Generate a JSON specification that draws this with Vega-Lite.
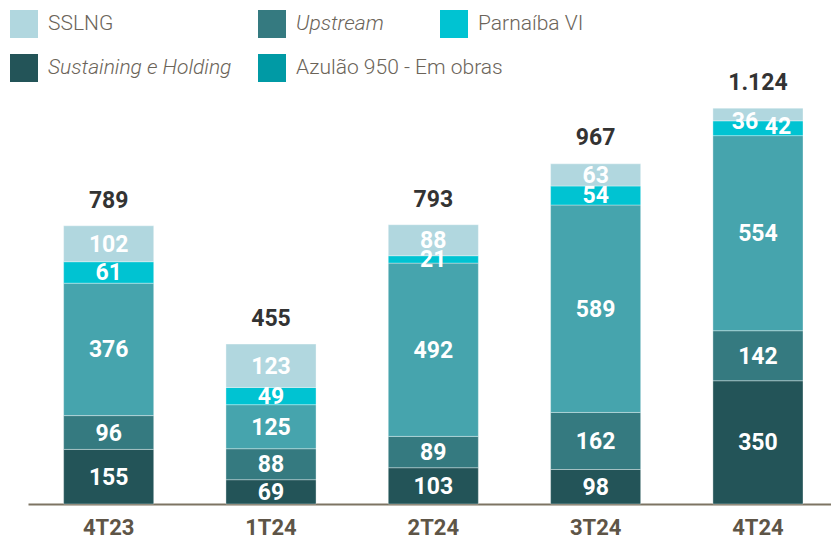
{
  "$schema": "https://vega.github.io/schema/vega-lite/v6.json",
  "width": 803,
  "height": 405,
  "autosize": {"type": "none"},
  "padding": {"left": 28, "top": 99, "right": 0, "bottom": 36},
  "background": "white",
  "config": {"view": {"stroke": null}, "font": "Roboto"},
  "datasets": {
    "main": [
      {"period": "4T23", "series": "Sustaining e Holding", "value": 155},
      {"period": "4T23", "series": "Upstream", "value": 96},
      {"period": "4T23", "series": "Azulão 950 - Em obras", "value": 376},
      {"period": "4T23", "series": "Parnaíba VI", "value": 61},
      {"period": "4T23", "series": "SSLNG", "value": 102},
      {"period": "1T24", "series": "Sustaining e Holding", "value": 69},
      {"period": "1T24", "series": "Upstream", "value": 88},
      {"period": "1T24", "series": "Azulão 950 - Em obras", "value": 125},
      {"period": "1T24", "series": "Parnaíba VI", "value": 49},
      {"period": "1T24", "series": "SSLNG", "value": 123},
      {"period": "2T24", "series": "Sustaining e Holding", "value": 103},
      {"period": "2T24", "series": "Upstream", "value": 89},
      {"period": "2T24", "series": "Azulão 950 - Em obras", "value": 492},
      {"period": "2T24", "series": "Parnaíba VI", "value": 21},
      {"period": "2T24", "series": "SSLNG", "value": 88},
      {"period": "3T24", "series": "Sustaining e Holding", "value": 98},
      {"period": "3T24", "series": "Upstream", "value": 162},
      {"period": "3T24", "series": "Azulão 950 - Em obras", "value": 589},
      {"period": "3T24", "series": "Parnaíba VI", "value": 54},
      {"period": "3T24", "series": "SSLNG", "value": 63},
      {"period": "4T24", "series": "Sustaining e Holding", "value": 350},
      {"period": "4T24", "series": "Upstream", "value": 142},
      {"period": "4T24", "series": "Azulão 950 - Em obras", "value": 554},
      {"period": "4T24", "series": "Parnaíba VI", "value": 42},
      {"period": "4T24", "series": "SSLNG", "value": 36}
    ],
    "totals": [
      {"period": "4T23", "total": 789, "label": "789"},
      {"period": "1T24", "total": 455, "label": "455"},
      {"period": "2T24", "total": 793, "label": "793"},
      {"period": "3T24", "total": 967, "label": "967"},
      {"period": "4T24", "total": 1124, "label": "1.124"}
    ]
  },
  "data": {"name": "main"},
  "resolve": {"scale": {"color": "independent"}, "legend": {"color": "independent"}},
  "layer": [
    {
      "transform": [
        {"calculate": "indexof(['Sustaining e Holding','Upstream','Azulão 950 - Em obras','Parnaíba VI','SSLNG'], datum.series)", "as": "ord"},
        {"stack": "value", "groupby": ["period"], "sort": [{"field": "ord"}], "as": ["v0", "v1"]}
      ],
      "mark": {"type": "bar", "stroke": "#ffffff", "strokeWidth": 1, "strokeOpacity": 0.35},
      "encoding": {
        "x": {
          "field": "period", "type": "nominal",
          "scale": {"domain": ["4T23", "1T24", "2T24", "3T24", "4T24"], "paddingInner": 0.445, "paddingOuter": 0.196, "align": 0.56},
          "axis": {"title": null, "labelAngle": 0, "ticks": false, "domainColor": "#7D7463", "domainWidth": 2, "labelFont": "Roboto", "labelFontWeight": "bold", "labelFontSize": 22, "labelColor": "#5E5547", "labelPadding": 13}
        },
        "y": {"field": "v0", "type": "quantitative", "scale": {"domain": [0, 1150], "nice": false}, "axis": null},
        "y2": {"field": "v1"},
        "color": {
          "field": "series", "type": "nominal",
          "scale": {"domain": ["SSLNG", "Upstream", "Parnaíba VI", "Sustaining e Holding", "Azulão 950 - Em obras"], "range": ["#B1D7DF", "#357A80", "#00C3D2", "#235458", "#46A4AD"]},
          "legend": null
        }
      }
    },
    {
      "transform": [{"filter": "datum.series != 'Parnaíba VI'"}],
      "mark": {"type": "square", "opacity": 0},
      "encoding": {
        "x": {"field": "period", "type": "nominal"},
        "y": {"field": "value", "type": "quantitative"},
        "color": {
          "field": "series", "type": "nominal",
          "scale": {"domain": ["SSLNG", "Sustaining e Holding", "Upstream", "Azulão 950 - Em obras"], "range": ["#B1D7DF", "#235458", "#357A80", "#009AA5"]},
          "legend": {
            "title": null, "orient": "none", "legendX": -18, "legendY": -89, "columns": 2, "gridAlign": "each",
            "columnPadding": 26, "rowPadding": 16, "padding": 0,
            "symbolType": "square", "symbolSize": 784, "symbolOpacity": 1, "symbolStrokeWidth": 0,
            "labelFont": "Roboto", "labelFontWeight": 300, "labelFontSize": 21, "labelColor": "#6B6459", "labelOffset": 10, "labelLimit": 400,
            "labelFontStyle": {"expr": "datum.label == 'Upstream' || datum.label == 'Sustaining e Holding' ? 'italic' : 'normal'"}
          }
        }
      }
    },
    {
      "transform": [{"filter": "datum.series == 'Parnaíba VI'"}],
      "mark": {"type": "square", "opacity": 0},
      "encoding": {
        "x": {"field": "period", "type": "nominal"},
        "y": {"field": "value", "type": "quantitative"},
        "color": {
          "field": "series", "type": "nominal",
          "scale": {"domain": ["Parnaíba VI"], "range": ["#00C3D2"]},
          "legend": {
            "title": null, "orient": "none", "legendX": 412, "legendY": -89, "padding": 0,
            "symbolType": "square", "symbolSize": 784, "symbolOpacity": 1, "symbolStrokeWidth": 0,
            "labelFont": "Roboto", "labelFontWeight": 300, "labelFontSize": 21, "labelColor": "#6B6459", "labelOffset": 10, "labelLimit": 400
          }
        }
      }
    },
    {
      "transform": [
        {"calculate": "indexof(['Sustaining e Holding','Upstream','Azulão 950 - Em obras','Parnaíba VI','SSLNG'], datum.series)", "as": "ord"},
        {"stack": "value", "groupby": ["period"], "sort": [{"field": "ord"}], "as": ["v0", "v1"]},
        {"calculate": "(datum.v0 + datum.v1) / 2", "as": "mid"},
        {"filter": "!(datum.period == '4T24' && (datum.series == 'SSLNG' || datum.series == 'Parnaíba VI'))"}
      ],
      "mark": {"type": "text", "color": "#ffffff", "font": "Roboto", "fontWeight": "bold", "fontSize": 23, "baseline": "middle", "dy": 1},
      "encoding": {
        "x": {"field": "period", "type": "nominal"},
        "y": {"field": "mid", "type": "quantitative"},
        "text": {"field": "value", "type": "quantitative"}
      }
    },
    {
      "transform": [
        {"calculate": "indexof(['Sustaining e Holding','Upstream','Azulão 950 - Em obras','Parnaíba VI','SSLNG'], datum.series)", "as": "ord"},
        {"stack": "value", "groupby": ["period"], "sort": [{"field": "ord"}], "as": ["v0", "v1"]},
        {"calculate": "(datum.v0 + datum.v1) / 2", "as": "mid"},
        {"filter": "datum.period == '4T24' && datum.series == 'SSLNG'"}
      ],
      "mark": {"type": "text", "color": "#ffffff", "font": "Roboto", "fontWeight": "bold", "fontSize": 23, "baseline": "middle", "dx": -13, "dy": 8},
      "encoding": {
        "x": {"field": "period", "type": "nominal"},
        "y": {"field": "mid", "type": "quantitative"},
        "text": {"field": "value", "type": "quantitative"}
      }
    },
    {
      "transform": [
        {"calculate": "indexof(['Sustaining e Holding','Upstream','Azulão 950 - Em obras','Parnaíba VI','SSLNG'], datum.series)", "as": "ord"},
        {"stack": "value", "groupby": ["period"], "sort": [{"field": "ord"}], "as": ["v0", "v1"]},
        {"calculate": "(datum.v0 + datum.v1) / 2", "as": "mid"},
        {"filter": "datum.period == '4T24' && datum.series == 'Parnaíba VI'"}
      ],
      "mark": {"type": "text", "color": "#ffffff", "font": "Roboto", "fontWeight": "bold", "fontSize": 23, "baseline": "middle", "dx": 20, "dy": -1},
      "encoding": {
        "x": {"field": "period", "type": "nominal"},
        "y": {"field": "mid", "type": "quantitative"},
        "text": {"field": "value", "type": "quantitative"}
      }
    },
    {
      "data": {"name": "totals"},
      "mark": {"type": "text", "color": "#333333", "font": "Roboto", "fontWeight": "bold", "fontSize": 23, "baseline": "middle", "dy": -25},
      "encoding": {
        "x": {"field": "period", "type": "nominal"},
        "y": {"field": "total", "type": "quantitative"},
        "text": {"field": "label", "type": "nominal"}
      }
    }
  ]
}
